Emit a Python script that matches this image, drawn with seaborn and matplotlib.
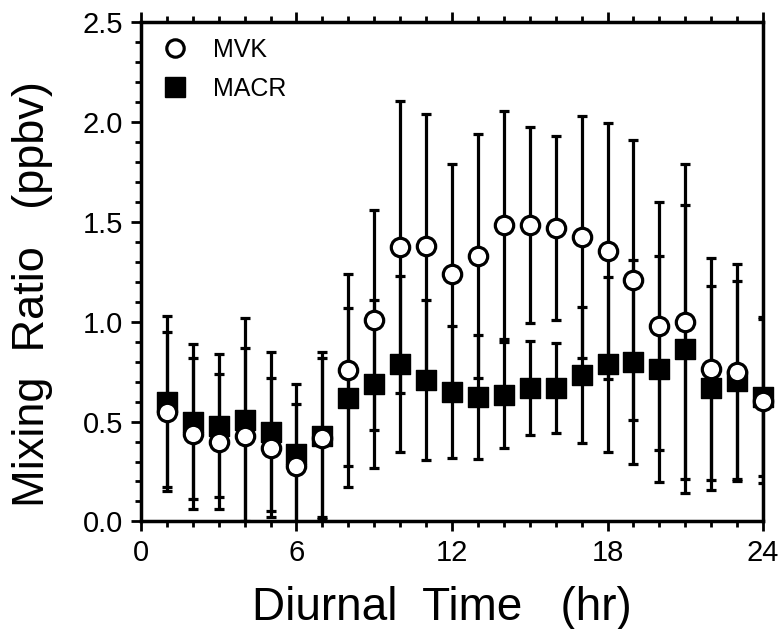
import numpy as np
import pandas as pd
import matplotlib
matplotlib.use("Agg")
import matplotlib.pyplot as plt
import seaborn as sns
from matplotlib.ticker import MultipleLocator
from matplotlib.lines import Line2D

# diurnal hour bins
hours = list(range(1, 25))

# MVK mean and standard deviation (ppbv)
mvk = [0.55, 0.44, 0.40, 0.43, 0.37, 0.28, 0.42, 0.76, 1.01, 1.375, 1.38, 1.24,
       1.33, 1.485, 1.485, 1.467, 1.424, 1.354, 1.21, 0.98, 1.00, 0.764, 0.75, 0.604]
mvk_sd = [0.40, 0.38, 0.34, 0.44, 0.35, 0.31, 0.40, 0.48, 0.55, 0.73, 0.66, 0.55,
          0.61, 0.57, 0.49, 0.46, 0.605, 0.64, 0.70, 0.62, 0.79, 0.555, 0.54, 0.41]

# MACR mean and standard deviation (ppbv)
macr = [0.60, 0.50, 0.48, 0.51, 0.45, 0.34, 0.43, 0.62, 0.69, 0.79, 0.71, 0.646,
        0.625, 0.634, 0.668, 0.668, 0.734, 0.786, 0.80, 0.764, 0.863, 0.668, 0.703, 0.625]
macr_sd = [0.43, 0.39, 0.36, 0.51, 0.40, 0.35, 0.42, 0.45, 0.42, 0.44, 0.40, 0.33,
           0.31, 0.265, 0.235, 0.225, 0.34, 0.44, 0.51, 0.565, 0.72, 0.51, 0.50, 0.40]

x_ticks = [0, 6, 12, 18, 24]
y_ticks = [0.0, 0.5, 1.0, 1.5, 2.0, 2.5]

sns.set_style("ticks")
plt.rcParams['font.family'] = ['Liberation Sans', 'DejaVu Sans']
plt.rcParams.update({'text.color': 'black', 'axes.labelcolor': 'black',
                     'xtick.color': 'black', 'ytick.color': 'black'})

df_mvk = pd.DataFrame({'hour': hours, 'value': mvk, 'sd': mvk_sd})
df_macr = pd.DataFrame({'hour': hours, 'value': macr, 'sd': macr_sd})

fig, ax = plt.subplots(figsize=(7.81, 6.29), dpi=100)
fig.subplots_adjust(left=0.1805, right=0.977, top=0.965, bottom=0.171)

# error bars (symmetric SD)
for d in (df_macr, df_mvk):
    ax.errorbar(d['hour'], d['value'], yerr=d['sd'], fmt='none', ecolor='black',
                elinewidth=2.3, capsize=3.6, capthick=2.3, zorder=2)

sns.scatterplot(data=df_macr, x='hour', y='value', marker='s', s=210,
                color='black', edgecolor='black', linewidth=1,
                zorder=3, clip_on=False, ax=ax)
sns.scatterplot(data=df_mvk, x='hour', y='value', marker='o', s=175,
                color='white', edgecolor='black', linewidth=2.3,
                zorder=4, clip_on=False, ax=ax)

ax.set_xlim(0, 24)
ax.set_ylim(0, 2.5)
ax.set_xticks(x_ticks)
ax.set_yticks(y_ticks)
ax.set_yticklabels([f"{v:.1f}" for v in y_ticks])
ax.xaxis.set_minor_locator(MultipleLocator(1))
ax.yaxis.set_minor_locator(MultipleLocator(0.1))

ax.tick_params(which='both', direction='out', top=True, right=False,
               width=2, labelsize=21, pad=6)
ax.tick_params(which='major', length=7)
ax.tick_params(which='minor', length=4.5)
for sp in ax.spines.values():
    sp.set_linewidth(2.5)
    sp.set_color('black')

ax.set_xlabel('Diurnal  Time   (hr)', fontsize=33)
ax.set_ylabel('Mixing  Ratio   (ppbv)', fontsize=32.5)
ax.xaxis.set_label_coords(0.483, -0.13)
ax.yaxis.set_label_coords(-0.142, 0.456)

legend_handles = [
    Line2D([], [], linestyle='none', marker='o', markersize=12.5,
           markerfacecolor='white', markeredgecolor='black', markeredgewidth=2.3),
    Line2D([], [], linestyle='none', marker='s', markersize=14,
           markerfacecolor='black', markeredgecolor='black'),
]
ax.legend(legend_handles, ['MVK', 'MACR'],
          loc='upper left', frameon=False, fontsize=18, handlelength=1.5,
          handletextpad=0.75, labelspacing=0.62, borderpad=0.2, borderaxespad=0.42)

plt.savefig('out.png', dpi=100)
plt.close()
